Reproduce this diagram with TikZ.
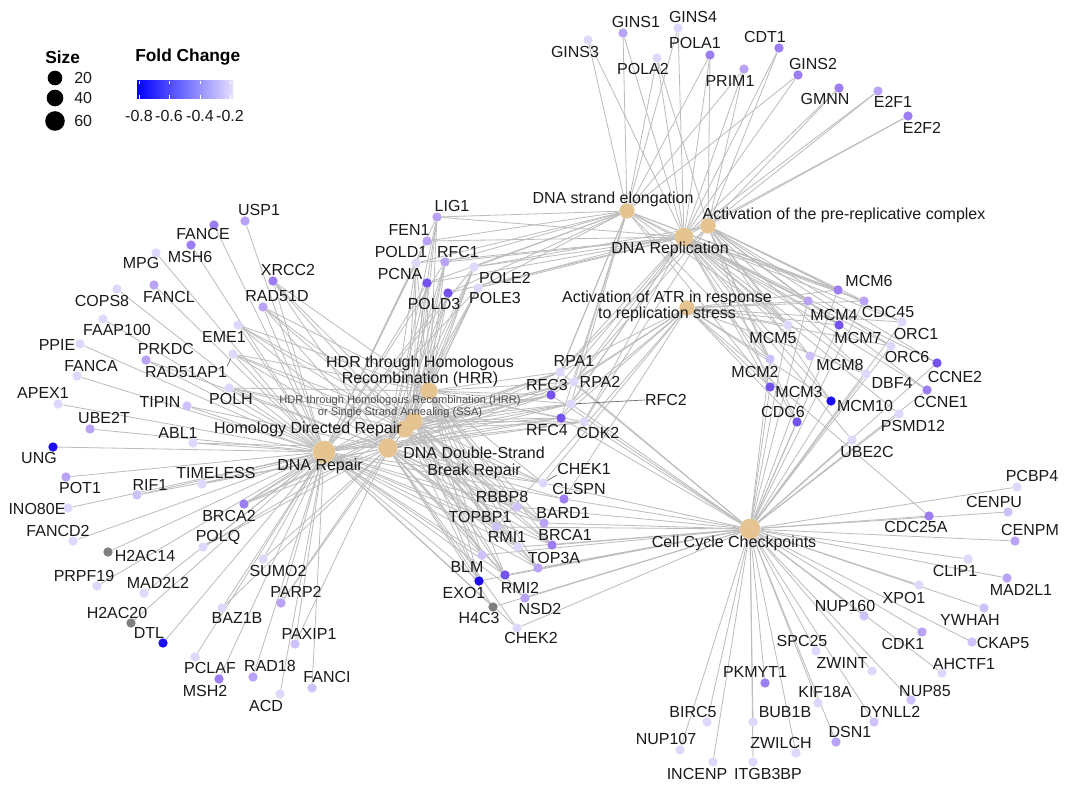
\documentclass[tikz,border=0pt]{standalone}
\usepackage{fontspec}
\setmainfont{Liberation Sans}
\pgfdeclarelayer{bg}
\pgfsetlayers{bg,main}
\definecolor{c1}{HTML}{E0D8FC}
\definecolor{c2}{HTML}{CFC2FA}
\definecolor{c3}{HTML}{B9A3F6}
\definecolor{c4}{HTML}{9C7EF2}
\definecolor{c5}{HTML}{7452EE}
\definecolor{c6}{HTML}{1E0BF5}
\definecolor{gr}{HTML}{7F7F7F}
\definecolor{catc}{HTML}{E6C492}
\definecolor{edgec}{HTML}{BDBDBD}
\definecolor{txt}{HTML}{1A1A1A}
\definecolor{gradL}{HTML}{0000FF}
\definecolor{gradR}{HTML}{E6DEFF}
\tikzset{
 gdot/.style={circle,inner sep=0pt,minimum size=7pt,draw=none},
 cdot/.style={circle,inner sep=0pt,fill=catc,draw=none},
 glab/.style={inner sep=0pt,font=\fontsize{12}{14}\selectfont,text=txt},
 clab/.style={inner sep=0pt,font=\fontsize{12}{14}\selectfont,text=txt,align=center},
 slab/.style={inner sep=0pt,font=\fontsize{8.3}{10}\selectfont,text=black!70,align=center},
 lnk/.style={draw=edgec,line width=0.62pt},
 leader/.style={draw=black!60,line width=0.5pt},
 legt/.style={inner sep=0pt,font=\fontsize{13}{15}\selectfont\bfseries,anchor=west},
 legn/.style={inner sep=0pt,font=\fontsize{12}{14}\selectfont,text=txt}
}
\newcommand\gn[6]{\node[gdot,fill=#4] (#1) at (#2,#3) {}; \node[glab] (l#1) at (#5,#6) {#1};}
\begin{document}
\begin{tikzpicture}[x=0.75pt,y=-0.75pt]
\begin{pgfonlayer}{bg}
\fill[white] (0,0) rectangle (1067,791);
\end{pgfonlayer}
\useasboundingbox (0,0) rectangle (1067,791);

% ---------- legend ----------
\node[legt] (sizeT) at (45,57) {Size};
\node[legt] (fcT) at (135,57) {Fold Change};
\node[circle,fill=black,inner sep=0pt,minimum size=11pt] (s20) at (55,78) {};
\node[circle,fill=black,inner sep=0pt,minimum size=12.5pt] (s40) at (55,98) {};
\node[circle,fill=black,inner sep=0pt,minimum size=14.7pt] (s60) at (55,121) {};
\node[legn,anchor=west] (n20) at (74,78) {20};
\node[legn,anchor=west] (n40) at (74,98) {40};
\node[legn,anchor=west] (n60) at (74,121) {60};
\shade[left color=gradL,right color=gradR] (137,81) rectangle (233,99);
\foreach \t/\l in {139/{-0.8},169/{-0.6},200/{-0.4},230/{-0.2}}{
  \draw[white,line width=0.5pt] (\t,81) -- (\t,84.5);
  \draw[white,line width=0.5pt] (\t,95.5) -- (\t,99);
  \node[legn] at (\t,116) {\l};
}

% ---------- category nodes ----------
\node[cdot,minimum size=17pt] (DR) at (324,452) {};
\node[cdot,minimum size=14.5pt] (DSB) at (388,448) {};
\node[cdot,minimum size=13pt] (HDR) at (405,429) {};
\node[cdot,minimum size=13pt] (SSA) at (414,421) {};
\node[cdot,minimum size=13pt] (HRR) at (429,391) {};
\node[cdot,minimum size=14pt] (REP) at (684,237) {};
\node[cdot,minimum size=11.5pt] (ELO) at (627,211) {};
\node[cdot,minimum size=11.5pt] (PRE) at (708,226) {};
\node[cdot,minimum size=11.5pt] (ATR) at (687,308) {};
\node[cdot,minimum size=15.5pt] (CCC) at (750,529) {};

\node[clab] (lDR) at (320,466) {DNA Repair};
\node[clab] (lDSB) at (474,463) {DNA Double-Strand\\[-1.5pt]Break Repair};
\node[clab] (lHDR) at (308,429) {Homology Directed Repair};
\node[slab] (lSSA) at (400,406.5) {HDR through Homologous Recombination (HRR)\\[-1pt]or Single Strand Annealing (SSA)};
\node[clab] (lHRR) at (420,371.5) {HDR through Homologous\\[-1.5pt]Recombination (HRR)};
\node[clab] (lREP) at (670,249) {DNA Replication};
\node[clab] (lELO) at (613,199) {DNA strand elongation};
\node[clab] (lPRE) at (844,215) {Activation of the pre-replicative complex};
\node[clab] (lATR) at (667,306.5) {Activation of ATR in response\\[-1.5pt]to replication stress};
\node[clab] (lCCC) at (734,543) {Cell Cycle Checkpoints};

% ---------- gene nodes ----------
\gn{GINS3}{588}{40}{c1}{575}{52}
\gn{GINS1}{623}{33}{c3}{636}{22}
\gn{GINS4}{678}{28}{c1}{693}{17}
\gn{POLA2}{657}{58}{c1}{643}{69}
\gn{POLA1}{710}{55}{c4}{695}{43}
\gn{PRIM1}{744}{69}{c3}{730}{81}
\gn{CDT1}{779}{48}{c4}{765}{37}
\gn{GINS2}{798}{75}{c4}{813}{64}
\gn{GMNN}{839}{88}{c4}{825}{99}
\gn{E2F1}{878}{91}{c3}{893}{102}
\gn{E2F2}{908}{116}{c4}{922}{128}

\gn{LIG1}{437}{217}{c3}{452}{206}
\gn{FEN1}{427}{241}{c3}{409}{230}
\gn{POLD1}{416}{263}{c1}{401}{252}
\gn{RFC1}{445}{262}{c3}{458}{252}
\gn{POLE2}{474}{267}{c1}{505}{278}
\gn{PCNA}{427}{283}{c5}{400}{274}
\gn{POLD3}{448}{293}{c5}{434}{304}
\gn{POLE3}{478}{288}{c1}{495}{298}

\gn{USP1}{245}{221}{c3}{259}{210}
\gn{FANCE}{214}{225}{c4}{203}{234}
\gn{MSH6}{191}{245}{c4}{190}{257}
\gn{MPG}{156}{253}{c1}{141}{263}
\gn{XRCC2}{273}{281}{c4}{288}{270}
\gn{RAD51D}{263}{307}{c3}{277}{296}
\gn{FANCL}{154}{285}{c3}{169}{297}
\gn{COPS8}{117}{289}{c1}{102}{301}
\gn{FAAP100}{103}{319}{c1}{117}{330}
\gn{EME1}{238}{325}{c1}{224}{337}
\gn{PPIE}{80}{344}{c1}{57}{345}
\gn{PRKDC}{146}{360}{c3}{166}{349}
\gn{RAD51AP1}{233}{354}{c1}{186}{372}
\gn{FANCA}{77}{376}{c1}{91}{366}
\gn{POLH}{229}{388}{c1}{231}{399}
\gn{APEX1}{58}{404}{c1}{43}{393}
\gn{TIPIN}{187}{406}{c2}{160}{402}
\gn{UBE2T}{90}{429}{c3}{104}{418}
\gn{ABL1}{193}{443}{c1}{178}{433}
\gn{UNG}{53}{447}{c6}{39}{458}
\gn{TIMELESS}{202}{484}{c1}{216}{473}
\gn{POT1}{66}{477}{c3}{80}{488}
\gn{RIF1}{137}{495}{c2}{150}{485}
\gn{INO80E}{68}{508}{c1}{37}{509}
\gn{BRCA2}{244}{504}{c4}{229}{516}
\gn{FANCD2}{73}{541}{c1}{58}{531}
\gn{H2AC14}{108}{552}{gr}{145}{556}
\gn{POLQ}{203}{547}{c1}{218}{537}
\gn{SUMO2}{263}{559}{c1}{278}{571}
\gn{PRPF19}{97}{586}{c1}{84}{576}
\gn{MAD2L2}{144}{593}{c1}{158}{583}
\gn{PARP2}{281}{603}{c3}{296}{592}
\gn{H2AC20}{131}{623}{gr}{117}{613}
\gn{BAZ1B}{222}{608}{c1}{237}{618}
\gn{DTL}{163}{643}{c6}{149}{633}
\gn{PAXIP1}{295}{644}{c2}{309}{634}
\gn{PCLAF}{195}{657}{c1}{210}{668}
\gn{RAD18}{253}{677}{c3}{270}{666}
\gn{MSH2}{219}{679}{c4}{205}{691}
\gn{FANCI}{312}{688}{c2}{327}{677}
\gn{ACD}{280}{694}{c1}{266}{706}

\gn{RPA1}{560}{372}{c1}{574}{361}
\gn{RPA2}{574}{382}{c1}{600}{382}
\gn{RFC3}{551}{395}{c5}{547}{385}
\gn{RFC2}{571}{404}{c1}{666}{400}
\gn{RFC4}{561}{418}{c5}{547}{430}
\gn{CDK2}{584}{422}{c1}{598}{433}
\gn{CHEK1}{543}{483}{c1}{584}{469}
\gn{CLSPN}{564}{499}{c4}{579}{489}
\gn{RBBP8}{517}{507}{c2}{502}{497}
\gn{BARD1}{544}{523}{c3}{563}{513}
\gn{TOPBP1}{496}{527}{c2}{480}{517}
\gn{RMI1}{518}{547}{c1}{507}{537}
\gn{BRCA1}{552}{545}{c4}{565}{535}
\gn{TOP3A}{538}{568}{c3}{554}{558}
\gn{BLM}{482}{555}{c2}{467}{567}
\gn{EXO1}{479}{581}{c6}{464}{593}
\gn{RMI2}{505}{575}{c5}{520}{588}
\gn{H4C3}{493}{607}{gr}{479}{618}
\gn{NSD2}{525}{598}{c3}{540}{609}
\gn{CHEK2}{517}{628}{c1}{531}{638}

\gn{MCM6}{838}{290}{c4}{869}{281}
\gn{MCM4}{808}{301}{c3}{834}{315}
\gn{CDC45}{864}{301}{c3}{888}{312}
\gn{MCM7}{839}{325}{c5}{858}{338}
\gn{ORC1}{902}{322}{c1}{916}{334}
\gn{MCM5}{788}{325}{c1}{773}{338}
\gn{ORC6}{891}{346}{c1}{907}{357}
\gn{CCNE2}{937}{363}{c5}{955}{377}
\gn{MCM2}{770}{359}{c2}{755}{372}
\gn{MCM8}{810}{356}{c2}{840}{365}
\gn{DBF4}{866}{374}{c1}{892}{383}
\gn{MCM3}{770}{387}{c5}{799}{392}
\gn{CCNE1}{927}{390}{c4}{941}{402}
\gn{MCM10}{831}{401}{c6}{865}{406}
\gn{CDC6}{797}{422}{c5}{783}{412}
\gn{PSMD12}{899}{414}{c1}{913}{426}
\gn{UBE2C}{852}{440}{c1}{867}{452}

\gn{PCBP4}{1017}{487}{c1}{1032}{476}
\gn{CENPU}{1008}{512}{c2}{994}{502}
\gn{CDC25A}{929}{516}{c4}{916}{527}
\gn{CENPM}{1015}{541}{c3}{1030}{530}
\gn{CLIP1}{968}{559}{c1}{955}{571}
\gn{MAD2L1}{1007}{578}{c3}{1021}{590}
\gn{XPO1}{919}{585}{c1}{904}{598}
\gn{YWHAH}{984}{608}{c2}{970}{620}
\gn{NUP160}{864}{616}{c2}{845}{606}
\gn{CKAP5}{972}{642}{c2}{1003}{643}
\gn{CDK1}{922}{632}{c3}{903}{644}
\gn{SPC25}{816}{651}{c1}{802}{641}
\gn{AHCTF1}{942}{673}{c1}{964}{664}
\gn{ZWINT}{872}{671}{c1}{842}{663}
\gn{PKMYT1}{765}{683}{c4}{755}{672}
\gn{KIF18A}{818}{703}{c1}{825}{692}
\gn{NUP85}{911}{700}{c2}{925}{691}
\gn{BIRC5}{707}{722}{c1}{693}{712}
\gn{BUB1B}{753}{722}{c1}{785}{712}
\gn{DYNLL2}{874}{722}{c2}{890}{712}
\gn{DSN1}{836}{742}{c3}{850}{732}
\gn{NUP107}{680}{750}{c1}{666}{739}
\gn{ZWILCH}{796}{753}{c1}{781}{743}
\gn{INCENP}{713}{762}{c1}{697}{774}
\gn{ITGB3BP}{753}{762}{c1}{768}{774}

% ---------- leader segments ----------
\draw[leader] (RAD51AP1) -- (lRAD51AP1.north east);
\draw[leader] (RFC2) -- (lRFC2.west);
\draw[leader] (CHEK1) -- (lCHEK1.south west);
\draw[leader] (DSB) -- ([xshift=-1pt]lDSB.north west);

% ---------- edges ----------
\begin{pgfonlayer}{bg}
\foreach \g in {USP1,FANCE,MSH6,MPG,XRCC2,RAD51D,FANCL,COPS8,FAAP100,EME1,PPIE,PRKDC,RAD51AP1,FANCA,POLH,APEX1,TIPIN,UBE2T,ABL1,UNG,TIMELESS,POT1,RIF1,INO80E,BRCA2,FANCD2,H2AC14,POLQ,SUMO2,PRPF19,MAD2L2,PARP2,H2AC20,BAZ1B,DTL,PAXIP1,PCLAF,RAD18,MSH2,FANCI,ACD,PCNA,POLD1,POLD3,POLE2,POLE3,RFC1,RFC2,RFC3,RFC4,LIG1,FEN1,RPA1,RPA2,CHEK1,CLSPN,RBBP8,BARD1,TOPBP1,RMI1,BRCA1,TOP3A,BLM,EXO1,RMI2,H4C3,NSD2,CHEK2,CDK2}
  {\draw[lnk] (DR) -- (\g);}
\foreach \g in {XRCC2,RAD51D,EME1,RAD51AP1,POLH,PRKDC,TIPIN,ABL1,TIMELESS,RIF1,BRCA2,POLQ,SUMO2,PARP2,BAZ1B,PAXIP1,PCNA,POLD1,POLD3,POLE2,POLE3,RFC1,RFC2,RFC3,RFC4,LIG1,RPA1,RPA2,CHEK1,CLSPN,RBBP8,BARD1,TOPBP1,RMI1,BRCA1,TOP3A,BLM,EXO1,RMI2,H4C3,NSD2,CHEK2,CDK2}
  {\draw[lnk] (DSB) -- (\g);}
\foreach \g in {XRCC2,RAD51D,EME1,RAD51AP1,POLH,BRCA2,POLQ,PARP2,PCNA,POLD1,POLD3,POLE2,POLE3,RFC1,RFC2,RFC3,RFC4,LIG1,RPA1,RPA2,CHEK1,RBBP8,BARD1,TOPBP1,RMI1,BRCA1,TOP3A,BLM,EXO1,RMI2,CDK2}
  {\draw[lnk] (HDR) -- (\g);}
\foreach \g in {XRCC2,RAD51D,EME1,RAD51AP1,POLH,BRCA2,PCNA,POLD1,POLD3,POLE2,POLE3,RFC1,RFC2,RFC3,RFC4,LIG1,RPA1,RPA2,CHEK1,RBBP8,BARD1,TOPBP1,RMI1,BRCA1,TOP3A,BLM,EXO1,RMI2,CDK2}
  {\draw[lnk] (SSA) -- (\g); \draw[lnk] (HRR) -- (\g);}
\foreach \g in {GINS1,GINS2,GINS3,GINS4,POLA1,POLA2,PRIM1,CDT1,GMNN,E2F1,E2F2,LIG1,FEN1,POLD1,POLD3,RFC1,PCNA,POLE2,POLE3,RPA1,RPA2,RFC2,RFC3,RFC4,MCM2,MCM3,MCM4,MCM5,MCM6,MCM7,MCM8,MCM10,CDC45,ORC1,ORC6,CDC6,CCNE1,CCNE2,CDK2,DBF4,PSMD12,UBE2C}
  {\draw[lnk] (REP) -- (\g);}
\foreach \g in {GINS1,GINS2,GINS3,GINS4,POLA1,POLA2,PRIM1,LIG1,FEN1,POLD1,POLD3,RFC1,PCNA,POLE2,POLE3,RPA1,RPA2,RFC2,RFC3,RFC4,MCM2,MCM3,MCM4,MCM5,MCM6,MCM7,CDC45}
  {\draw[lnk] (ELO) -- (\g);}
\foreach \g in {POLA1,POLA2,PRIM1,CDT1,GMNN,E2F1,E2F2,POLE2,POLE3,RPA1,RPA2,MCM2,MCM3,MCM4,MCM5,MCM6,MCM7,MCM8,MCM10,CDC45,ORC1,ORC6,CDC6,CCNE1,CCNE2,CDK2,DBF4}
  {\draw[lnk] (PRE) -- (\g);}
\foreach \g in {MCM2,MCM3,MCM4,MCM5,MCM6,MCM7,MCM10,CDC45,CDC6,ORC1,ORC6,DBF4,CDC25A,CHEK1,CLSPN,RPA1,RPA2,RFC2,RFC3,RFC4,TOPBP1}
  {\draw[lnk] (ATR) -- (\g);}
\foreach \g in {PCBP4,CENPU,CDC25A,CENPM,CLIP1,MAD2L1,XPO1,YWHAH,CKAP5,NUP160,CDK1,AHCTF1,SPC25,ZWINT,NUP85,KIF18A,DYNLL2,DSN1,PKMYT1,BUB1B,ZWILCH,ITGB3BP,INCENP,BIRC5,NUP107,MCM2,MCM3,MCM4,MCM5,MCM6,MCM7,MCM10,CDC45,CDC6,ORC1,ORC6,DBF4,CCNE1,CCNE2,CDK2,PSMD12,UBE2C,RPA1,RPA2,RFC2,RFC3,RFC4,CHEK1,CLSPN,TOPBP1,BRCA1,BARD1,RBBP8,RMI1,RMI2,TOP3A,BLM,EXO1,H4C3,NSD2,CHEK2}
  {\draw[lnk] (CCC) -- (\g);}
\end{pgfonlayer}
\end{tikzpicture}
\end{document}
